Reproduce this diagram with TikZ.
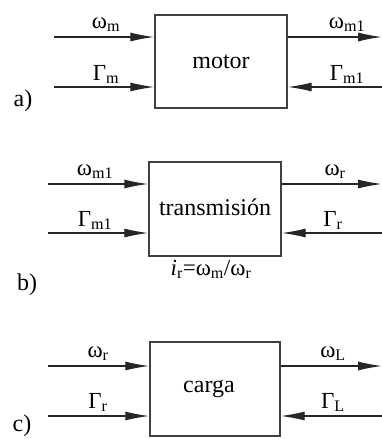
\documentclass[tikz,border=0pt]{standalone}
\usepackage{fontspec}
\setmainfont{Liberation Serif}
\usetikzlibrary{arrows.meta}
\tikzset{
  blk/.style={draw=black!75, line width=1.4pt, minimum width=#1, inner sep=0pt},
  sig/.style={line width=1.3pt, black!85, -{Latex[length=24pt,width=9pt]}},
  lbl/.style={anchor=base, inner sep=0pt, font=\fontsize{23}{26}\selectfont},
  btxt/.style={inner sep=0pt, font=\fontsize{24}{28}\selectfont},
  tag/.style={inner sep=0pt, font=\fontsize{24}{28}\selectfont},
}
\newcommand{\sbs}[1]{\textsubscript{#1}}
\begin{document}
\begin{tikzpicture}[x=1pt,y=-1pt]
\useasboundingbox (0,0) rectangle (382,439);
% ---------- a)
\node[blk, draw, minimum width=132pt, minimum height=93pt] (A) at (221,61.5) {};
\node[btxt] (At) at (221,62) {motor};
\coordinate (a1) at (54,37);
\coordinate (a2) at (54,87);
\coordinate (a3) at (382,37);
\coordinate (a4) at (382,87);
\draw[sig] (a1) -- (a1 -| A.west);
\draw[sig] (a2) -- (a2 -| A.west);
\draw[sig] (a3 -| A.east) -- (a3);
\draw[sig] (a4) -- (a4 -| A.east);
\node[lbl] (la1) at (106,28) {ω\sbs{m}};
\node[lbl] (la2) at (106,80) {Γ\sbs{m}};
\node[lbl] (la3) at (347,28) {ω\sbs{m1}};
\node[lbl] (la4) at (347,80) {Γ\sbs{m1}};
\node[tag] (ta) at (23,101) {a)};
% ---------- b)
\node[blk, draw, minimum width=132pt, minimum height=94pt] (B) at (215,209) {};
\node[btxt] (Bt) at (215,207) {transmisión};
\coordinate (b1) at (48,184);
\coordinate (b2) at (48,233);
\coordinate (b3) at (382,184);
\coordinate (b4) at (382,233);
\draw[sig] (b1) -- (b1 -| B.west);
\draw[sig] (b2) -- (b2 -| B.west);
\draw[sig] (b3 -| B.east) -- (b3);
\draw[sig] (b4) -- (b4 -| B.east);
\node[lbl] (lb1) at (95,175) {ω\sbs{m1}};
\node[lbl] (lb2) at (95,226) {Γ\sbs{m1}};
\node[lbl] (lb3) at (335,175) {ω\sbs{r}};
\node[lbl] (lb4) at (333,226) {Γ\sbs{r}};
\node[lbl] (lb5) at (211,275) {\textit{i}\sbs{r}=ω\sbs{m}/ω\sbs{r}};
\node[tag] (tb) at (27,285) {b)};
% ---------- c)
\node[blk, draw, minimum width=130pt, minimum height=94pt] (C) at (215,389) {};
\node[btxt] (Ct) at (209,389) {carga};
\coordinate (c1) at (48,366);
\coordinate (c2) at (48,416);
\coordinate (c3) at (382,366);
\coordinate (c4) at (382,416);
\draw[sig] (c1) -- (c1 -| C.west);
\draw[sig] (c2) -- (c2 -| C.west);
\draw[sig] (c3 -| C.east) -- (c3);
\draw[sig] (c4) -- (c4 -| C.east);
\node[lbl] (lc1) at (98,357) {ω\sbs{r}};
\node[lbl] (lc2) at (98,408) {Γ\sbs{r}};
\node[lbl] (lc3) at (333,357) {ω\sbs{L}};
\node[lbl] (lc4) at (333,408) {Γ\sbs{L}};
\node[tag] (tc) at (22,426) {c)};
\end{tikzpicture}
\end{document}
